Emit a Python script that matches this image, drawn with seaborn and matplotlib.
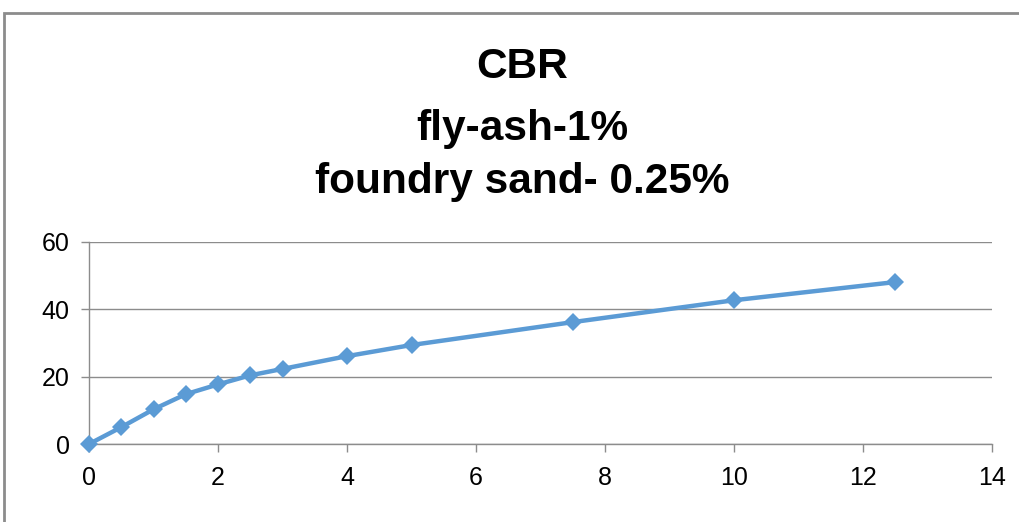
import pandas as pd
import seaborn as sns
import matplotlib.pyplot as plt
from matplotlib.patches import Rectangle

# data
penetration = [0, 0.5, 1, 1.5, 2, 2.5, 3, 4, 5, 7.5, 10, 12.5]
load = [0, 5.0, 10.3, 14.8, 17.7, 20.4, 22.3, 26.1, 29.4, 36.2, 42.7, 48.1]
title_lines = ["CBR", "fly-ash-1%", "foundry sand- 0.25%"]
x_ticks = [0, 2, 4, 6, 8, 10, 12, 14]
y_ticks = [0, 20, 40, 60]

df = pd.DataFrame({"penetration": penetration, "load": load})

sns.set_style("white")
plt.rcParams["font.family"] = ["Liberation Sans Narrow", "Liberation Sans", "DejaVu Sans"]
plt.rcParams["text.color"] = "black"

fig = plt.figure(figsize=(10.2, 5.22), dpi=100)
ax = fig.add_axes([0.0873, 0.1494, 0.8852, 0.3870])

sns.lineplot(data=df, x="penetration", y="load", ax=ax, color="#5B9BD5",
             linewidth=3.2, marker="D", markersize=9.5, markeredgewidth=0,
             clip_on=False, zorder=3)

ax.set_xlim(0, 14)
ax.set_ylim(0, 60)
ax.set_xticks(x_ticks)
ax.set_yticks(y_ticks)
ax.set_xlabel("")
ax.set_ylabel("")
ax.grid(axis="y", color="#8c8c8c", linewidth=1)
ax.set_axisbelow(True)
for side in ["top", "right"]:
    ax.spines[side].set_visible(False)
for side in ["left", "bottom"]:
    ax.spines[side].set_color("#8c8c8c")
    ax.spines[side].set_linewidth(1)
ax.tick_params(axis="both", direction="out", length=6, width=1, color="#8c8c8c",
               labelsize=18, labelcolor="black", bottom=True, left=True)
ax.tick_params(axis="x", pad=10)
ax.tick_params(axis="y", pad=8)

# stacked title
for y, line in zip([0.872, 0.752, 0.652], title_lines):
    fig.text(0.512, y, line, ha="center", va="center", fontsize=30.5,
             fontweight="bold", color="black")

# outer chart frame
fig.patches.append(Rectangle((4 / 1020, -0.1), 1.2, (522 - 13) / 522 + 0.1,
                             transform=fig.transFigure, fill=False,
                             edgecolor="#8c8c8c", linewidth=2))

fig.savefig("out.png", dpi=100)
